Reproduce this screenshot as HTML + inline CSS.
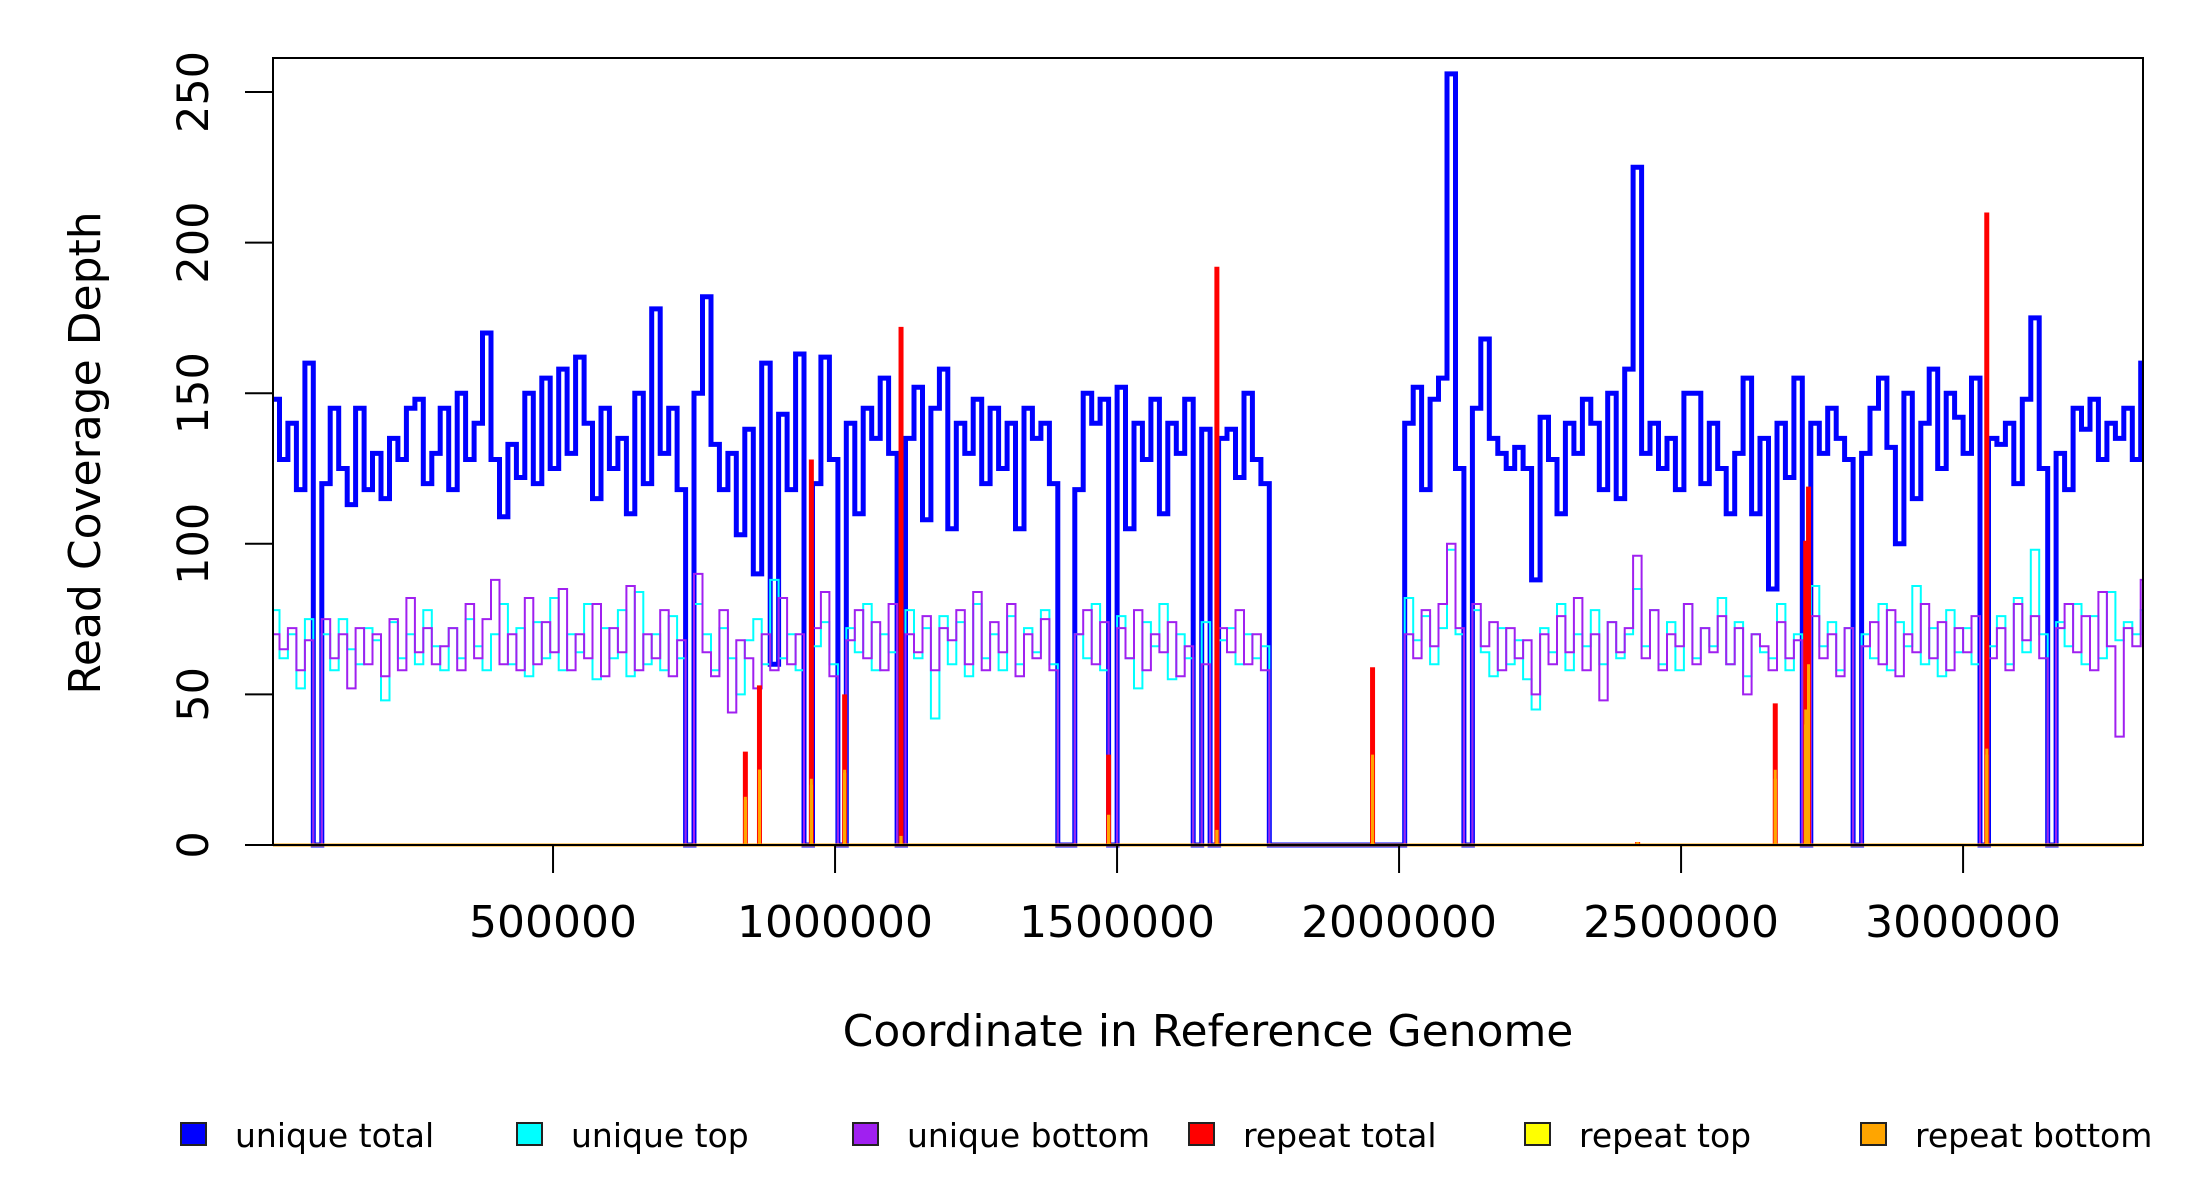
<!DOCTYPE html>
<html><head><meta charset="utf-8"><style>
html,body{margin:0;padding:0;background:#fff;}
svg{display:block;font-family:"DejaVu Sans","Liberation Sans",sans-serif;}
</style></head><body>
<svg id="chart" width="2200" height="1200" viewBox="0 0 2200 1200" xmlns="http://www.w3.org/2000/svg">
<rect x="0" y="0" width="2200" height="1200" fill="#fff"/>
<g id="series"></g>
<rect x="273" y="58" width="1870" height="787" fill="none" stroke="#000" stroke-width="2"/>
<g id="axes"></g>
<text transform="translate(100,453) rotate(-90)" text-anchor="middle" font-size="44">Read Coverage Depth</text>
<text x="1208" y="1046" text-anchor="middle" font-size="44">Coordinate in Reference Genome</text>
<g id="legend"></g>
</svg>
<script>
const binSize = 15000;
const uniqueTotal = [
148,128,140,118,160,0,120,145,125,113,
145,118,130,115,135,128,145,148,120,130,
145,118,150,128,140,170,128,109,133,122,
150,120,155,125,158,130,162,140,115,145,
125,135,110,150,120,178,130,145,118,0,
150,182,133,118,130,103,138,90,160,60,
143,118,163,0,120,162,128,0,140,110,
145,135,155,130,0,135,152,108,145,158,
105,140,130,148,120,145,125,140,105,145,
135,140,120,0,0,118,150,140,148,0,
152,105,140,128,148,110,140,130,148,0,
138,0,135,138,122,150,128,120,0,0,
0,0,0,0,0,0,0,0,0,0,
0,0,0,0,140,152,118,148,155,256,
125,0,145,168,135,130,125,132,125,88,
142,128,110,140,130,148,140,118,150,115,
158,225,130,140,125,135,118,150,150,120,
140,125,110,130,155,110,135,85,140,122,
155,0,140,130,145,135,128,0,130,145,
155,132,100,150,115,140,158,125,150,142,
130,155,0,135,133,140,120,148,175,125,
0,130,118,145,138,148,128,140,135,145,
128,160];
const uniqueTop = [
78,62,70,52,75,0,70,58,75,65,
60,72,68,48,74,62,70,60,78,66,
58,72,62,75,66,58,70,80,60,72,
56,74,62,82,58,70,64,80,55,72,
62,78,56,84,60,70,58,76,62,0,
80,70,58,72,62,50,68,75,60,88,
62,70,58,0,66,74,60,0,72,64,
80,58,70,64,0,78,62,72,42,76,
60,74,56,80,62,70,58,76,60,72,
64,78,60,0,0,70,62,80,58,0,
76,62,52,74,66,80,55,70,62,0,
74,0,68,72,60,70,62,66,0,0,
0,0,0,0,0,0,0,0,0,0,
0,0,0,0,82,68,76,60,72,98,
70,0,78,64,56,72,60,68,55,45,
72,64,80,58,70,66,78,60,74,62,
70,85,66,78,60,74,58,80,62,72,
66,82,60,74,56,70,64,62,80,58,
70,0,86,66,74,58,72,0,70,62,
80,58,74,66,86,60,72,56,78,64,
72,60,0,66,76,60,82,64,98,70,
0,74,66,80,60,76,62,84,68,74,
70,78];
const uniqueBottom = [
70,65,72,58,68,0,75,62,70,52,
72,60,70,56,75,58,82,64,72,60,
66,72,58,80,62,75,88,60,70,58,
82,60,74,64,85,58,70,62,80,56,
72,64,86,58,70,62,78,56,68,0,
90,64,56,78,44,68,62,52,70,58,
82,60,70,0,72,84,56,0,68,78,
62,74,58,80,0,70,64,76,58,72,
68,78,60,84,58,74,64,80,56,70,
62,75,58,0,0,70,78,60,74,0,
72,62,78,58,70,64,74,56,66,0,
60,0,72,64,78,60,70,58,0,0,
0,0,0,0,0,0,0,0,0,0,
0,0,0,0,70,62,78,66,80,100,
72,0,80,66,74,58,72,62,68,50,
70,60,76,64,82,58,70,48,74,64,
72,96,62,78,58,70,66,80,60,72,
64,76,60,72,50,70,66,58,74,62,
68,0,76,62,70,56,72,0,66,74,
60,78,56,70,64,80,62,74,58,72,
64,76,0,62,72,58,80,68,76,62,
0,72,80,64,76,58,84,66,36,72,
66,88];
const repeatPos =    [841000,866000,958000,1017000,1117000,1485000,1677000,1953000,2423000,2667000,2721000,2726000,3042000];
const repeatTotal =  [31,53,128,50,172,30,192,59,1,47,101,119,210];
const repeatTop =    [15,25,20,24,3,10,5,29,0,22,40,55,30];
const repeatBottom = [16,25,22,25,3,10,5,30,1,25,45,60,32];
const xTicks = [500000,1000000,1500000,2000000,2500000,3000000];
const xTickLabels = ["500000","1000000","1500000","2000000","2500000","3000000"];
const yTicks = [0,50,100,150,200,250];
const yTickLabels = ["0","50","100","150","200","250"];
const legendLabels = ["unique total","unique top","unique bottom","repeat total","repeat top","repeat bottom"];
const legendColors = ["#0000FF","#00FFFF","#A020F0","#FF0000","#FFFF00","#FFA500"];

const NS = "http://www.w3.org/2000/svg";
const X0 = 273, X1 = 2143, XMIN = 3500, XMAX = 3319000;
const Y0 = 845, Y250 = 92;
function sx(v){ return X0 + (v - XMIN) / (XMAX - XMIN) * (X1 - X0); }
function sy(v){ return Y0 - v / 250 * (Y0 - Y250); }
function cx(v){ return Math.max(X0, Math.min(X1, sx(v))); }

const gS = document.getElementById('series');
const gA = document.getElementById('axes');
const gL = document.getElementById('legend');
function mk(tag, attrs, parent){
  const e = document.createElementNS(NS, tag);
  for (const k in attrs) e.setAttribute(k, attrs[k]);
  parent.appendChild(e);
  return e;
}
function stepPath(vals){
  let d = '';
  for (let i = 0; i < vals.length; i++){
    const xa = cx(i * binSize), xb = cx((i + 1) * binSize), y = sy(vals[i]);
    d += (i === 0 ? 'M' : 'L') + xa.toFixed(1) + ',' + y.toFixed(1) + 'L' + xb.toFixed(1) + ',' + y.toFixed(1);
  }
  return d;
}
const pT = mk('path', {d: stepPath(uniqueTotal), fill:'none', stroke:'#0000FF', 'stroke-width':5, 'stroke-linejoin':'miter'}, gS);


const pTop = mk('path', {d: stepPath(uniqueTop), fill:'none', stroke:'#00FFFF', 'stroke-width':2}, gS);


const pB = mk('path', {d: stepPath(uniqueBottom), fill:'none', stroke:'#A020F0', 'stroke-width':2}, gS);



function spikes(vals, color, w, name){
  const g = mk('g', {}, gS);
  
  
  for (let i = 0; i < repeatPos.length; i++){
    if (vals[i] <= 0) continue;
    const x = sx(repeatPos[i]);
    const l = mk('line', {x1:x, x2:x, y1:sy(0), y2:sy(vals[i]), stroke:color, 'stroke-width':w}, g);
    
    
  }
}
spikes(repeatTotal, '#FF0000', 5, 'repeat-total');
spikes(repeatTop, '#FFFF00', 3, 'repeat-top');
spikes(repeatBottom, '#FFA500', 3, 'repeat-bottom');
const base = mk('line', {x1:X0, x2:X1, y1:Y0, y2:Y0, stroke:'#FFA500', 'stroke-width':3}, gS);



for (let i = 0; i < yTicks.length; i++){
  const y = sy(yTicks[i]);
  const t = mk('line', {x1:245, x2:273, y1:y, y2:y, stroke:'#000', 'stroke-width':2}, gA);
  
  
  const lb = mk('text', {transform:'translate(208,' + y + ') rotate(-90)', 'text-anchor':'middle', 'font-size':43}, gA);
  lb.textContent = yTickLabels[i];
  
  
}
for (let i = 0; i < xTicks.length; i++){
  const x = sx(xTicks[i]);
  const t = mk('line', {x1:x, x2:x, y1:845, y2:873, stroke:'#000', 'stroke-width':2}, gA);
  
  
  const lb = mk('text', {x:x, y:937, 'text-anchor':'middle', 'font-size':44}, gA);
  lb.textContent = xTickLabels[i];
  
  
}
for (let i = 0; i < legendLabels.length; i++){
  const x = 181 + i * 336;
  const g = mk('g', {}, gL);
  
  
  mk('rect', {x:x, y:1123, width:25, height:22, fill:legendColors[i], stroke:'#222', 'stroke-width':2}, g);
  const tx = mk('text', {x:x + 54, y:1147, 'font-size':33}, g);
  tx.textContent = legendLabels[i];
}
</script>
</body></html>
